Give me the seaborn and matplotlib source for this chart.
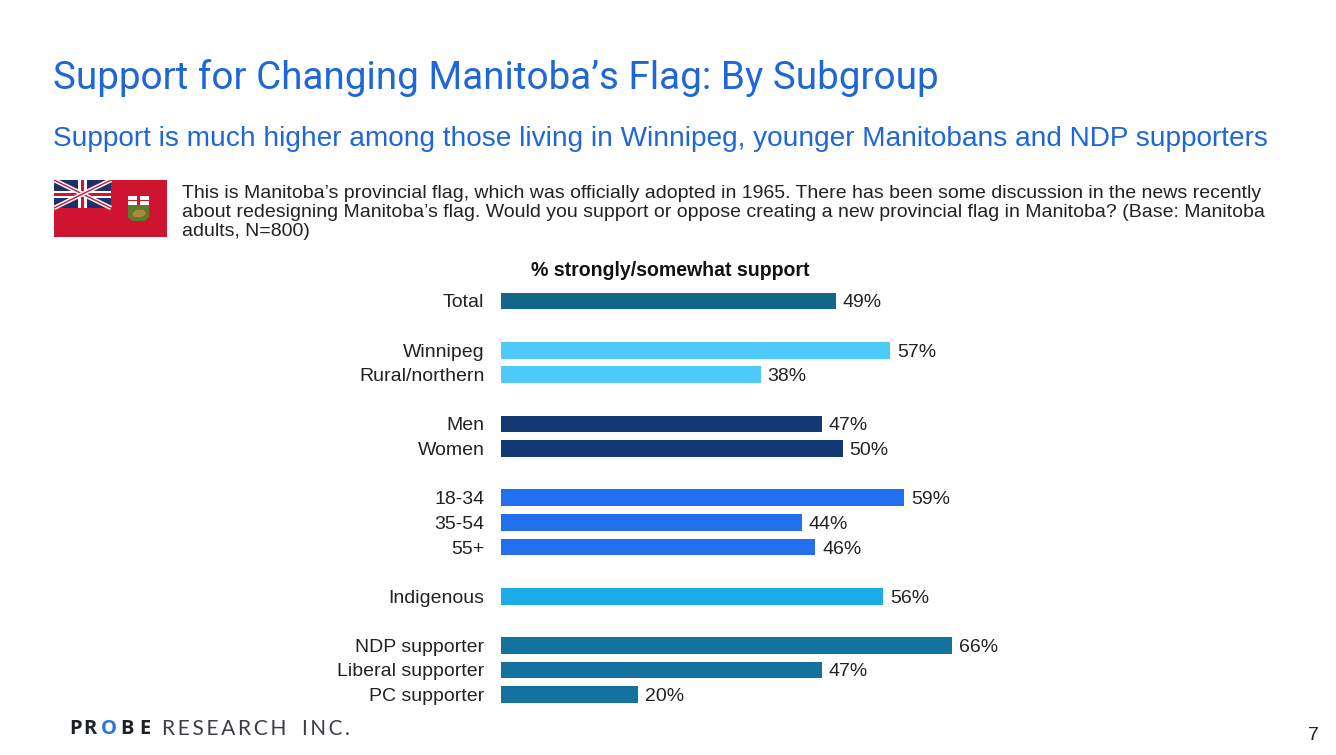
import matplotlib
matplotlib.use("Agg")
import matplotlib.pyplot as plt
import pandas as pd
import seaborn as sns
from matplotlib.patches import Polygon, Rectangle

# Data
groups = ["Total", "Winnipeg", "Rural/northern", "Men", "Women", "18-34", "35-54", "55+",
          "Indigenous", "NDP supporter", "Liberal supporter", "PC supporter"]
support = [49, 57, 38, 47, 50, 59, 44, 46, 56, 66, 47, 20]
colors = ["#12668A", "#4FCBFB", "#4FCBFB", "#143A75", "#143A75", "#2270EE", "#2270EE", "#2270EE",
          "#1CADE8", "#13739E", "#13739E", "#13739E"]
# blank rows separate the subgroups
row_order = ["Total", "", "Winnipeg", "Rural/northern", " ", "Men", "Women", "  ", "18-34", "35-54", "55+",
             "   ", "Indigenous", "    ", "NDP supporter", "Liberal supporter", "PC supporter"]

title = "Support for Changing Manitoba’s Flag: By Subgroup"
subtitle = "Support is much higher among those living in Winnipeg, younger Manitobans and NDP supporters"
question = ["This is Manitoba’s provincial flag, which was officially adopted in 1965. There has been some discussion in the news recently",
            "about redesigning Manitoba’s flag. Would you support or oppose creating a new provincial flag in Manitoba? (Base: Manitoba",
            "adults, N=800)"]
W, H = 1336, 755
BLUE = "#1F66D9"
TEXT = "#222222"

sns.set_theme(style="white")
plt.rcParams["font.family"] = ["Liberation Sans", "DejaVu Sans"]


def px(x, y):
    return x / W, 1 - y / H


df = pd.DataFrame({"group": groups, "support": support})

fig = plt.figure(figsize=(W / 100, H / 100), dpi=100, facecolor="white")

# bars: 501px is zero, about 6.83px per percent, 24.6px per row
top, bottom = 288.7, 706.9
ax = fig.add_axes([501 / W, 1 - bottom / H, 683 / W, (bottom - top) / H])
sns.barplot(data=df, x="support", y="group", hue="group", order=row_order, hue_order=groups,
            palette=colors, width=0.69, legend=False, saturation=1, edgecolor="none", linewidth=0, ax=ax)
ax.set_xlim(0, 100)
ax.set_ylim(len(row_order) - 0.5, -0.5)
ax.set_xlabel("")
ax.set_ylabel("")
ax.set_xticks([])
ax.tick_params(axis="y", length=0, pad=12, labelsize=14, labelcolor=TEXT)
sns.despine(ax=ax, left=True, bottom=True)
for c in ax.containers:
    for t in ax.bar_label(c, fmt="%g%%", padding=5, fontsize=14, color=TEXT):
        t.set_va("center_baseline")

fig.text(*px(670.5, 270), "% strongly/somewhat support", ha="center", va="center",
         fontsize=14.05, fontweight="bold", color="#111111")

# headings
fig.text(*px(53, 78), title, ha="left", va="center", fontsize=27.8, color=BLUE, family="Roboto")
fig.text(*px(53, 138.5), subtitle, ha="left", va="center", fontsize=20.2, color=BLUE)
for line, y in zip(question, [198, 217, 236]):
    fig.text(*px(182, y), line, ha="left", va="baseline", fontsize=14, color=TEXT)

# flag
fl = fig.add_axes([54 / W, 1 - 237 / H, 113 / W, 57 / H])
fl.set_xlim(0, 113)
fl.set_ylim(57, 0)
fl.axis("off")
fl.add_patch(Rectangle((0, 0), 113, 57, color="#CE1431", lw=0))
fl.add_patch(Rectangle((0, 0), 57, 28, color="#1E2F6B", lw=0))
for a, b in [((0, 0), (57, 28)), ((0, 28), (57, 0))]:
    fl.plot([a[0], b[0]], [a[1], b[1]], color="white", lw=3.2, solid_capstyle="butt")
    fl.plot([a[0], b[0]], [a[1], b[1]], color="#CE1431", lw=1.0, solid_capstyle="butt")
fl.add_patch(Rectangle((0, 10.5), 57, 7.5, color="white", lw=0))
fl.add_patch(Rectangle((24, 0), 8.5, 28, color="white", lw=0))
fl.add_patch(Rectangle((0, 12.5), 57, 3.5, color="#CE1431", lw=0))
fl.add_patch(Rectangle((26.5, 0), 3.5, 28, color="#CE1431", lw=0))
# shield
fl.add_patch(Rectangle((74, 16), 21, 9, color="white", lw=0))
fl.add_patch(Rectangle((83, 16), 3, 9, color="#CE1431", lw=0))
fl.add_patch(Rectangle((74, 19.5), 21, 1.5, color="#CE1431", lw=0))
fl.add_patch(Polygon([(74, 25), (95, 25), (95, 37), (91, 41), (78, 41), (74, 37)], color="#5E7A2A", lw=0))
fl.add_patch(Polygon([(78, 34), (82, 30), (90, 30), (92, 34), (88, 37), (80, 37)], color="#A88A3C", lw=0))

# logo
for ch, x in [("P", 69), ("R", 83.5), ("B", 120), ("E", 139)]:
    fig.text(*px(x, 729), ch, ha="left", va="center", fontsize=14.5, fontweight="bold",
             color="#1E2126", family="Open Sans")
fig.text(*px(100.5, 729), "O", ha="left", va="center", fontsize=14.5, fontweight="bold",
         color="#2A78D8", family="Open Sans")
fig.text(*px(162, 729), "R\u2009E\u2009S\u2009E\u2009A\u2009R\u2009C\u2009H", ha="left", va="center",
         fontsize=15.1, color="#3A3D44", family="Lato")
fig.text(*px(302, 729), "I\u2009N\u2009C\u2009.", ha="left", va="center", fontsize=14.8,
         color="#3A3D44", family="Lato")

fig.text(*px(1313, 736), "7", ha="center", va="center", fontsize=14, color=TEXT)

fig.savefig("out.png", dpi=100, facecolor="white")
